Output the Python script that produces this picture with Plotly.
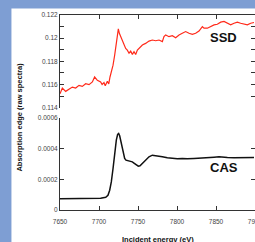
import plotly.graph_objects as go

# SSD (red, raw spectra)
ssd_energy = [7650.0, 7653.0, 7657.3, 7661.5, 7665.8, 7670.1, 7674.4, 7678.6, 7682.9, 7687.2,
              7691.5, 7694.4, 7697.9, 7702.1, 7704.0, 7706.4, 7708.0, 7710.7, 7712.5, 7714.1,
              7715.8, 7718.0, 7720.1, 7722.2, 7723.5, 7724.8, 7726.1, 7727.8, 7729.9, 7732.1,
              7734.2, 7736.3, 7738.5, 7740.6, 7742.8, 7744.9, 7747.0, 7749.2, 7751.3, 7755.6,
              7759.8, 7764.1, 7768.4, 7772.7, 7776.9, 7781.2, 7783.3, 7785.5, 7789.8, 7794.0,
              7798.3, 7802.6, 7806.8, 7811.1, 7815.4, 7819.7, 7823.9, 7828.2, 7832.5, 7834.6,
              7838.9, 7843.2, 7847.5, 7851.7, 7856.0, 7860.3, 7864.6, 7868.8, 7873.1, 7877.4,
              7881.6, 7885.9, 7890.2, 7894.5, 7898.7]
ssd_value = [0.11520, 0.11570, 0.11541, 0.11558, 0.11578, 0.11570, 0.11593, 0.11584, 0.11607, 0.11599,
             0.11622, 0.11665, 0.11636, 0.11622, 0.11600, 0.11616, 0.11590, 0.11628, 0.11605, 0.11665,
             0.11709, 0.11767, 0.11854, 0.11955, 0.12057, 0.12080, 0.12042, 0.12013, 0.11970, 0.11941,
             0.11912, 0.11897, 0.11870, 0.11888, 0.11860, 0.11883, 0.11859, 0.11897, 0.11912, 0.11941,
             0.11955, 0.11975, 0.11984, 0.11978, 0.11984, 0.11970, 0.12013, 0.12028, 0.12013, 0.12022,
             0.12004, 0.12028, 0.12042, 0.12057, 0.12042, 0.12033, 0.12042, 0.12062, 0.12100, 0.12086,
             0.12086, 0.12100, 0.12115, 0.12120, 0.12138, 0.12144, 0.12129, 0.12115, 0.12129, 0.12138,
             0.12129, 0.12120, 0.12115, 0.12129, 0.12135]

# CAS (black)
cas_energy = [7650.0, 7668.0, 7689.3, 7702.1, 7708.6, 7711.5, 7713.7, 7715.8, 7718.0, 7720.1,
              7722.2, 7723.9, 7725.2, 7726.5, 7727.8, 7729.5, 7731.2, 7732.9, 7734.6, 7737.2,
              7739.8, 7742.7, 7745.7, 7748.3, 7750.4, 7752.6, 7754.7, 7757.7, 7761.1, 7764.1,
              7768.4, 7772.7, 7776.9, 7781.2, 7787.6, 7794.0, 7800.4, 7806.9, 7813.3, 7821.8,
              7830.4, 7838.9, 7847.5, 7853.9, 7858.1, 7864.6, 7873.1, 7881.6, 7890.2, 7898.7]
cas_value = [7.39e-5, 7.39e-5, 7.39e-5, 7.61e-5, 8.26e-5, 9.57e-5, 1.283e-4, 1.826e-4, 2.696e-4, 3.674e-4,
             4.543e-4, 4.913e-4, 4.978e-4, 4.826e-4, 4.478e-4, 4.000e-4, 3.565e-4, 3.348e-4, 3.239e-4, 3.196e-4,
             3.174e-4, 3.130e-4, 3.022e-4, 2.913e-4, 2.848e-4, 2.870e-4, 2.978e-4, 3.174e-4, 3.348e-4, 3.457e-4,
             3.565e-4, 3.543e-4, 3.500e-4, 3.457e-4, 3.391e-4, 3.348e-4, 3.326e-4, 3.348e-4, 3.326e-4, 3.348e-4,
             3.391e-4, 3.413e-4, 3.435e-4, 3.457e-4, 3.457e-4, 3.413e-4, 3.391e-4, 3.413e-4, 3.413e-4, 3.413e-4]

x_ticks = [7650, 7700, 7750, 7800, 7850, 7900]
ssd_ticks = [0.114, 0.116, 0.118, 0.12, 0.122]
ssd_ticktext = ["0.114", "0.116", "0.118", "0.12", "0.122"]
cas_ticks = [0, 0.0002, 0.0004, 0.0006]
cas_ticktext = ["0", "0.0002", "0.0004", "0.0006"]

BLUE = "rgb(126,158,211)"
AX = "#333333"
FONT = "Liberation Sans, Arial, sans-serif"
tickfont = dict(family=FONT, size=6.5, color="#444444")

fig = go.Figure()
fig.add_trace(go.Scatter(x=ssd_energy, y=ssd_value, xaxis="x2", yaxis="y2", mode="lines",
                         line=dict(color="#ff2a1a", width=1.2), showlegend=False))
fig.add_trace(go.Scatter(x=cas_energy, y=cas_value, xaxis="x", yaxis="y", mode="lines",
                         line=dict(color="#111111", width=1.5), showlegend=False))
# dummy traces to activate right-side tick axes
fig.add_trace(go.Scatter(x=[None], y=[None], xaxis="x2", yaxis="y3", showlegend=False, hoverinfo="skip"))
fig.add_trace(go.Scatter(x=[None], y=[None], xaxis="x", yaxis="y4", showlegend=False, hoverinfo="skip"))

top_dom = [0.5246, 1.0]
bot_dom = [0.0, 0.4733]
common = dict(showgrid=False, zeroline=False, automargin=False, ticks="inside", ticklen=4, tickcolor=AX)

fig.update_layout(
    template="none",
    width=255, height=242,
    margin=dict(l=60, r=0, t=15, b=32, pad=0),
    paper_bgcolor=BLUE, plot_bgcolor="white",
    xaxis=dict(domain=[0, 1], range=[7650, 7900], anchor="y", tickvals=x_ticks,
               showline=True, linecolor=AX, linewidth=1, ticklabelstandoff=5,
               tickfont=tickfont, ticklabeloverflow="allow", **common),
    xaxis2=dict(domain=[0, 1], range=[7650, 7900], anchor="y2", side="top", tickvals=x_ticks,
                showline=True, linecolor=AX, linewidth=1, showticklabels=False, **common),
    yaxis=dict(domain=bot_dom, range=[0, 0.0006], anchor="x", tickvals=cas_ticks, ticktext=cas_ticktext,
               showline=True, linecolor=AX, linewidth=1, tickfont=tickfont, **common),
    yaxis2=dict(domain=top_dom, range=[0.114, 0.122], anchor="x2", tickvals=ssd_ticks, ticktext=ssd_ticktext,
                showline=True, linecolor=AX, linewidth=1, tickfont=tickfont,
                minor=dict(dtick=0.001, tick0=0.114, ticks="inside", ticklen=4, tickcolor=AX, showgrid=False),
                **common),
    yaxis3=dict(domain=top_dom, range=[0.114, 0.122], anchor="x2", overlaying="y2", side="right",
                tickvals=ssd_ticks, showline=False, showticklabels=False,
                minor=dict(dtick=0.001, tick0=0.114, ticks="inside", ticklen=4, tickcolor=AX, showgrid=False),
                **common),
    yaxis4=dict(domain=bot_dom, range=[0, 0.0006], anchor="x", overlaying="y", side="right",
                tickvals=cas_ticks, showline=False, showticklabels=False, **common),
    shapes=[dict(type="rect", xref="paper", yref="paper", x0=-0.249, x1=1.05, y0=-0.3, y1=1.0334,
                 fillcolor="white", line=dict(width=0), layer="below")],
    annotations=[
        dict(text="SSD", x=7859, y=0.12002, xref="x2", yref="y2", showarrow=False,
             font=dict(family=FONT, size=13, color="#111111", weight="bold")),
        dict(text="CAS", x=7860.6, y=0.000275, xref="x", yref="y", showarrow=False,
             font=dict(family=FONT, size=13, color="#111111", weight="bold")),
        dict(text="Absorption edge (raw spectra)", x=-0.205, y=0.474, xref="paper", yref="paper",
             textangle=-90, showarrow=False, xanchor="center", yanchor="middle",
             font=dict(family=FONT, size=7.5, color="#111111", weight="bold")),
        dict(text="Incident energy (eV)", x=0.5, y=-0.125, xref="paper", yref="paper",
             showarrow=False, xanchor="center", yanchor="top", borderpad=0,
             font=dict(family=FONT, size=7.5, color="#111111", weight="bold")),
    ],
)

fig.write_html("out.html", config={"displayModeBar": False},
               post_script="document.body.style.margin='0';document.body.style.overflow='hidden';")
